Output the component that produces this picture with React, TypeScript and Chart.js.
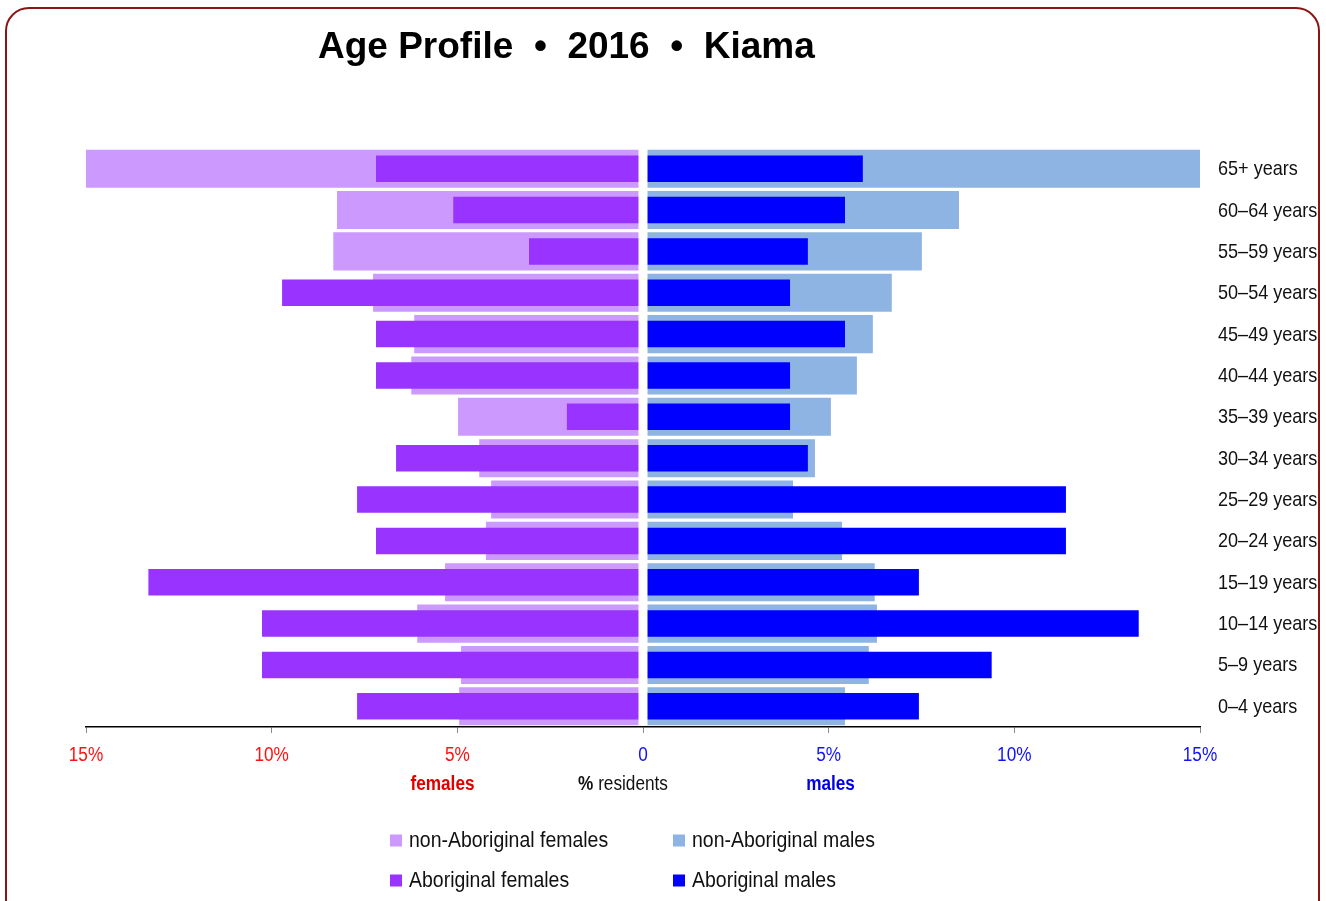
import React, { useEffect, useRef } from "react";
import { Chart, registerables } from "chart.js";

Chart.register(...registerables);

const ageGroups = [
  "65+ years",
  "60–64 years",
  "55–59 years",
  "50–54 years",
  "45–49 years",
  "40–44 years",
  "35–39 years",
  "30–34 years",
  "25–29 years",
  "20–24 years",
  "15–19 years",
  "10–14 years",
  "5–9 years",
  "0–4 years",
];

const nonAboriginalFemales = [15.0, 8.24, 8.34, 7.27, 6.16, 6.24, 4.98, 4.41, 4.09, 4.23, 5.33, 6.08, 4.9, 4.95];
const aboriginalFemales = [7.19, 5.11, 3.07, 9.72, 7.19, 7.19, 2.05, 6.65, 7.7, 7.19, 13.32, 10.26, 10.26, 7.7];
const nonAboriginalMales = [15.0, 8.51, 7.51, 6.7, 6.19, 5.76, 5.06, 4.63, 4.04, 5.36, 6.24, 6.3, 6.08, 5.44];
const aboriginalMales = [5.92, 5.44, 4.44, 3.96, 5.44, 3.96, 3.96, 4.44, 11.39, 11.39, 7.43, 13.35, 9.39, 7.43];

const xTickValues = [-15, -10, -5, 0, 5, 10, 15];

const COLORS = {
  nonAbF: "#CC99FF",
  abF: "#9933FF",
  nonAbM: "#8DB4E2",
  abM: "#0000FF",
  femaleTick: "#FF1111",
  maleTick: "#1111FF",
  femaleTitle: "#E00000",
  maleTitle: "#0000E0",
  border: "#8B1414",
};

const SANS = "'Liberation Sans', Arial, Helvetica, sans-serif";
const SX = 0.86;

const legendItems = [
  { label: "non-Aboriginal females", color: COLORS.nonAbF, col: 0, row: 0 },
  { label: "non-Aboriginal males", color: COLORS.nonAbM, col: 1, row: 0 },
  { label: "Aboriginal females", color: COLORS.abF, col: 0, row: 1 },
  { label: "Aboriginal males", color: COLORS.abM, col: 1, row: 1 },
];

function narrowText(
  ctx: CanvasRenderingContext2D,
  text: string,
  x: number,
  baseline: number,
  align: "left" | "center" | "right",
  font: string,
  color: string,
  sx = SX
): number {
  ctx.save();
  ctx.font = font;
  ctx.textAlign = "left";
  ctx.textBaseline = "alphabetic";
  const w = ctx.measureText(text).width * sx;
  let left = x;
  if (align === "center") left = x - w / 2;
  else if (align === "right") left = x - w;
  ctx.translate(left, baseline);
  ctx.scale(sx, 1);
  ctx.fillStyle = color;
  ctx.fillText(text, 0, 0);
  ctx.restore();
  return w;
}

const overlayPlugin = {
  id: "pyramidOverlay",
  afterDatasetsDraw(chart: any) {
    const { ctx, chartArea, scales } = chart;
    const x0 = scales.x.getPixelForValue(0);
    ctx.save();
    ctx.fillStyle = "#ffffff";
    ctx.fillRect(x0 - 4.5, chartArea.top, 9, chartArea.bottom - chartArea.top - 1.5);
    ctx.restore();
  },
  afterDraw(chart: any) {
    const { ctx, scales, chartArea } = chart;
    const x = scales.x;
    const y = scales.y;

    // category labels (right side)
    ageGroups.forEach((label, i) => {
      const cy = y.getPixelForValue(i);
      narrowText(ctx, label, chartArea.right + 18, cy + 6.5, "left", `21px ${SANS}`, "#111111");
    });

    // x tick labels
    xTickValues.forEach((v) => {
      const px = x.getPixelForValue(v);
      const txt = v === 0 ? "0" : `${Math.abs(v)}%`;
      const col = v < 0 ? COLORS.femaleTick : COLORS.maleTick;
      narrowText(ctx, txt, px, chartArea.bottom + 34, "center", `20px ${SANS}`, col);
    });

    // axis titles
    const titleBase = chartArea.bottom + 63;
    narrowText(ctx, "females", x.getPixelForValue(-5.4), titleBase, "center", `bold 20px ${SANS}`, COLORS.femaleTitle);
    narrowText(ctx, "males", x.getPixelForValue(5.05), titleBase, "center", `bold 20px ${SANS}`, COLORS.maleTitle);
    ctx.save();
    ctx.font = `bold 20px ${SANS}`;
    const pw = ctx.measureText("%").width * SX;
    ctx.font = `20px ${SANS}`;
    const rw = ctx.measureText(" residents").width * SX;
    ctx.restore();
    const startX = x.getPixelForValue(0) - 20 - (pw + rw) / 2;
    narrowText(ctx, "%", startX, titleBase, "left", `bold 20px ${SANS}`, "#111111");
    narrowText(ctx, " residents", startX + pw, titleBase, "left", `20px ${SANS}`, "#111111");

    // legend
    const colX = [390, 673];
    const rowBase = [846.5, 886.5];
    legendItems.forEach((it) => {
      const lx = colX[it.col];
      const base = rowBase[it.row];
      ctx.save();
      ctx.fillStyle = it.color;
      ctx.fillRect(lx, base - 12, 12, 12);
      ctx.restore();
      narrowText(ctx, it.label, lx + 19, base, "left", `22px ${SANS}`, "#111111", 0.885);
    });
  },
};

export default function App() {
  const canvasRef = useRef<HTMLCanvasElement | null>(null);

  useEffect(() => {
    if (!canvasRef.current) return;
    const chart = new Chart(canvasRef.current, {
      type: "bar",
      data: {
        labels: ageGroups,
        datasets: [
          {
            label: "Aboriginal females",
            data: aboriginalFemales.map((v) => -v),
            backgroundColor: COLORS.abF,
            barPercentage: 0.64,
            categoryPercentage: 1,
            grouped: false,
            order: 0,
          },
          {
            label: "Aboriginal males",
            data: aboriginalMales,
            backgroundColor: COLORS.abM,
            barPercentage: 0.64,
            categoryPercentage: 1,
            grouped: false,
            order: 0,
          },
          {
            label: "non-Aboriginal females",
            data: nonAboriginalFemales.map((v) => -v),
            backgroundColor: COLORS.nonAbF,
            barPercentage: 0.92,
            categoryPercentage: 1,
            grouped: false,
            order: 1,
          },
          {
            label: "non-Aboriginal males",
            data: nonAboriginalMales,
            backgroundColor: COLORS.nonAbM,
            barPercentage: 0.92,
            categoryPercentage: 1,
            grouped: false,
            order: 1,
          },
        ] as any,
      },
      options: {
        indexAxis: "y",
        responsive: false,
        animation: false,
        layout: { padding: { left: 86, top: 148, right: 0, bottom: 124 } },
        plugins: {
          legend: { display: false },
          title: { display: false },
          tooltip: { enabled: false },
        },
        scales: {
          x: {
            type: "linear",
            min: -15,
            max: 15,
            afterBuildTicks: (scale: any) => {
              scale.ticks = xTickValues.map((v) => ({ value: v }));
            },
            afterFit: (scale: any) => {
              scale.height = 50;
            },
            grid: {
              display: true,
              drawOnChartArea: false,
              drawTicks: true,
              tickLength: 6,
              color: "#888888",
              lineWidth: 1,
            },
            border: { display: true, color: "#000000", width: 1.5 },
            ticks: { display: false },
          },
          y: {
            type: "category",
            position: "right",
            offset: true,
            afterFit: (scale: any) => {
              scale.width = 126;
            },
            grid: { display: false },
            border: { display: false },
            ticks: { display: false },
          },
        },
      } as any,
      plugins: [overlayPlugin],
    });
    return () => chart.destroy();
  }, []);

  return (
    <div
      style={{
        position: "fixed",
        left: 0,
        top: 0,
        width: 1326,
        height: 901,
        background: "#fff",
        overflow: "hidden",
      }}
    >
      <div
        style={{
          position: "absolute",
          left: 5,
          top: 7,
          width: 1315,
          height: 940,
          border: `2.5px solid ${COLORS.border}`,
          borderRadius: 24,
          boxSizing: "border-box",
        }}
      />
      <canvas ref={canvasRef} width={1326} height={901} style={{ position: "absolute", left: 0, top: 0 }} />
      <div
        style={{
          position: "absolute",
          left: 318,
          top: 24,
          fontFamily: SANS,
          fontWeight: "bold",
          fontSize: 37,
          color: "#000",
          whiteSpace: "pre",
          lineHeight: "44px",
        }}
      >
        {"Age Profile  •  2016  •  Kiama"}
      </div>
    </div>
  );
}
